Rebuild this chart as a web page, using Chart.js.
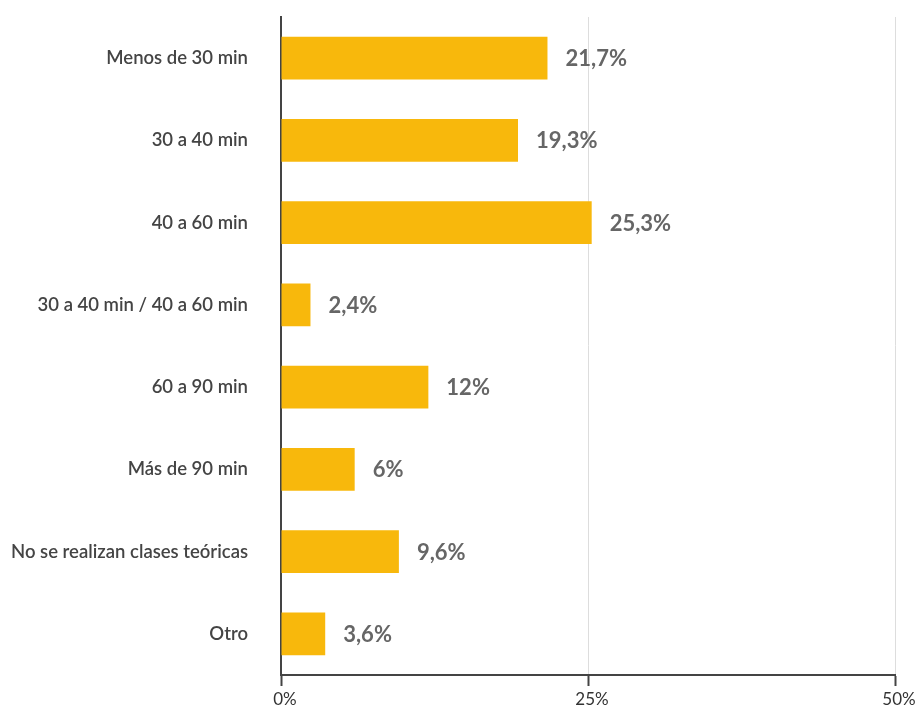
<!DOCTYPE html>
<html>
<head>
<meta charset="utf-8">
<script src="https://cdn.jsdelivr.net/npm/chart.js@4/dist/chart.umd.min.js"></script>
<style>
  body { margin: 0; background: #fff; }
  #wrap { width: 918px; height: 711px; }
</style>
</head>
<body>
<div id="wrap"><canvas id="graph" width="918" height="711"></canvas></div>
<script>
const categorias = [
    'Menos de 30 min',
    '30 a 40 min',
    '40 a 60 min',
    '30 a 40 min / 40 a 60 min',
    '60 a 90 min',
    'Más de 90 min',
    'No se realizan clases teóricas',
    'Otro'
];
const porcentajes = [21.7, 19.3, 25.3, 2.4, 12, 6, 9.6, 3.6];
const etiquetas = ['21,7%', '19,3%', '25,3%', '2,4%', '12%', '6%', '9,6%', '3,6%'];
const ticksX = [0, 25, 50];

// etiquetas de valor al final de cada barra
const valorPlugin = {
    id: 'valores',
    afterDatasetsDraw(chart) {
        const ctx = chart.ctx;
        const meta = chart.getDatasetMeta(0);
        ctx.save();
        ctx.font = 'bold 22px Lato';
        ctx.fillStyle = '#666666';
        ctx.textAlign = 'left';
        ctx.textBaseline = 'middle';
        meta.data.forEach((bar, i) => {
            ctx.fillText(etiquetas[i], bar.x + 18, bar.y + 1);
        });
        ctx.restore();
    }
};

const ctx = document.getElementById('graph').getContext('2d');
const myChart = new Chart(ctx, {
    type: 'bar',
    data: {
        labels: categorias,
        datasets: [{
            data: porcentajes,
            backgroundColor: '#F8B80C',
            borderWidth: 0,
            barPercentage: 0.52,
            categoryPercentage: 1
        }]
    },
    options: {
        indexAxis: 'y',
        responsive: false,
        animation: false,
        layout: { padding: { top: 17, right: 23, left: 0, bottom: 0 } },
        plugins: {
            legend: { display: false },
            tooltip: { enabled: false }
        },
        scales: {
            x: {
                min: 0,
                max: 50,
                afterBuildTicks: scale => { scale.ticks = ticksX.map(v => ({ value: v })); },
                afterFit: scale => { scale.height = 36; },
                grid: {
                    color: '#dddddd',
                    lineWidth: 1,
                    tickColor: '#444444',
                    tickLength: 11,
                    tickWidth: 2
                },
                border: { color: '#444444', width: 2 },
                ticks: {
                    callback: v => v + '%',
                    color: '#333333',
                    font: { family: 'Lato', size: 17 },
                    padding: 3,
                    labelOffset: 4,
                    maxRotation: 0
                }
            },
            y: {
                afterFit: scale => {
                    scale.width = 281;
                    scale.paddingTop = 0;
                    scale.paddingBottom = 0;
                },
                grid: { display: false, drawTicks: false },
                border: { color: '#444444', width: 2 },
                ticks: {
                    color: '#444444',
                    font: { family: 'Lato', size: 18.5, weight: '600' },
                    padding: 33
                }
            }
        }
    },
    plugins: [valorPlugin]
});
</script>
</body>
</html>
